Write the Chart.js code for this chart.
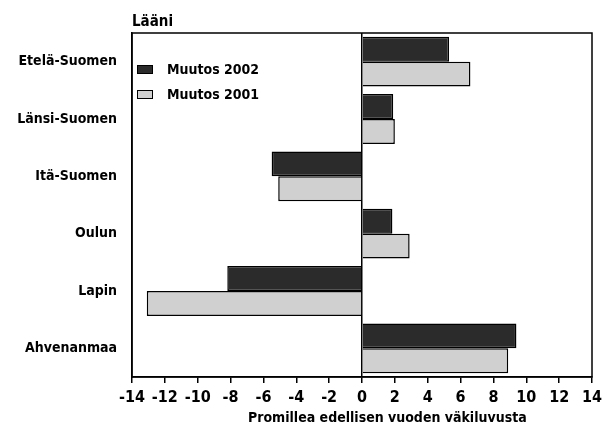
<!DOCTYPE html>
<html lang="fi">
<head>
  <meta charset="UTF-8" />
  <title>Väestönmuutos lääneittäin</title>
  <script src="https://cdn.jsdelivr.net/npm/chart.js"></script>
  <style>
    body { margin: 0; background: #fff; }
    #wrap { position: relative; width: 611px; height: 432px; }
    .txt { position: absolute; font-family: "Liberation Sans Narrow", "DejaVu Sans Condensed", sans-serif; font-weight: bold; color: #000; white-space: nowrap; }
    .box { display: inline-block; width: 14px; height: 7px; border: 1px solid #000; margin-right: 14px; vertical-align: 0px; }
  </style>
</head>
<body>
  <div id="wrap">
    <canvas id="chart" width="611" height="432"></canvas>
    <div class="txt" style="left:132px; top:12px; font-size:15px;">Lääni</div>
    <div class="txt" style="left:137px; top:57px; font-size:14px; line-height:25px;">
      <div><span class="box" style="background:#2b2b2b"></span>Muutos 2002</div>
      <div><span class="box" style="background:#d0d0d0"></span>Muutos 2001</div>
    </div>
    <div class="txt" style="left:248px; top:409px; font-size:14px;">Promillea edellisen vuoden väkiluvusta</div>
  </div>

  <script>
    // Data
    const laanit = ["Etelä-Suomen", "Länsi-Suomen", "Itä-Suomen", "Oulun", "Lapin", "Ahvenanmaa"];
    const muutos2002 = [5.3, 1.9, -5.5, 1.85, -8.2, 9.4];
    const muutos2001 = [6.6, 2.0, -5.1, 2.9, -13.1, 8.9];
    const xMin = -14, xMax = 14, xStep = 2;

    const fontFam = '"Liberation Sans Narrow", "DejaVu Sans Condensed", sans-serif';

    // kehys kuvaajan ympäri
    const frame = {
      id: "frame",
      afterDraw(chart) {
        const a = chart.chartArea, c = chart.ctx;
        c.save();
        c.strokeStyle = "#000";
        c.lineWidth = 1.5;
        c.strokeRect(a.left, a.top, a.right - a.left, a.bottom - a.top);
        c.restore();
      }
    };

    new Chart(document.getElementById("chart"), {
      type: "bar",
      data: {
        labels: laanit,
        datasets: [
          { label: "Muutos 2002", data: muutos2002, backgroundColor: "#2b2b2b", borderColor: "#000", borderWidth: 1.5 },
          { label: "Muutos 2001", data: muutos2001, backgroundColor: "#d0d0d0", borderColor: "#000", borderWidth: 1.5 }
        ]
      },
      options: {
        indexAxis: "y",
        responsive: false,
        animation: false,
        barPercentage: 1,
        categoryPercentage: 0.87,
        layout: { padding: { top: 33, right: 19, left: 0, bottom: 0 } },
        plugins: { legend: { display: false }, tooltip: { enabled: false } },
        scales: {
          x: {
            min: xMin,
            max: xMax,
            afterFit(s) { s.height = 55; },
            ticks: { stepSize: xStep, padding: 5, maxRotation: 0, minRotation: 0, autoSkip: false, color: "#000", font: { family: fontFam, size: 16, weight: "bold" } },
            grid: {
              drawOnChartArea: true,
              color: c => (c.tick && c.tick.value === 0 ? "#000" : "rgba(0,0,0,0)"),
              lineWidth: 1.5,
              tickColor: "#000",
              tickLength: 6
            },
            border: { color: "#000", width: 1.5 }
          },
          y: {
            afterFit(s) { s.width = 132; },
            ticks: { padding: 15, color: "#000", font: { family: fontFam, size: 14, weight: "bold" } },
            grid: { display: false, drawTicks: false },
            border: { color: "#000", width: 1.5 }
          }
        }
      },
      plugins: [frame]
    });
  </script>
</body>
</html>
